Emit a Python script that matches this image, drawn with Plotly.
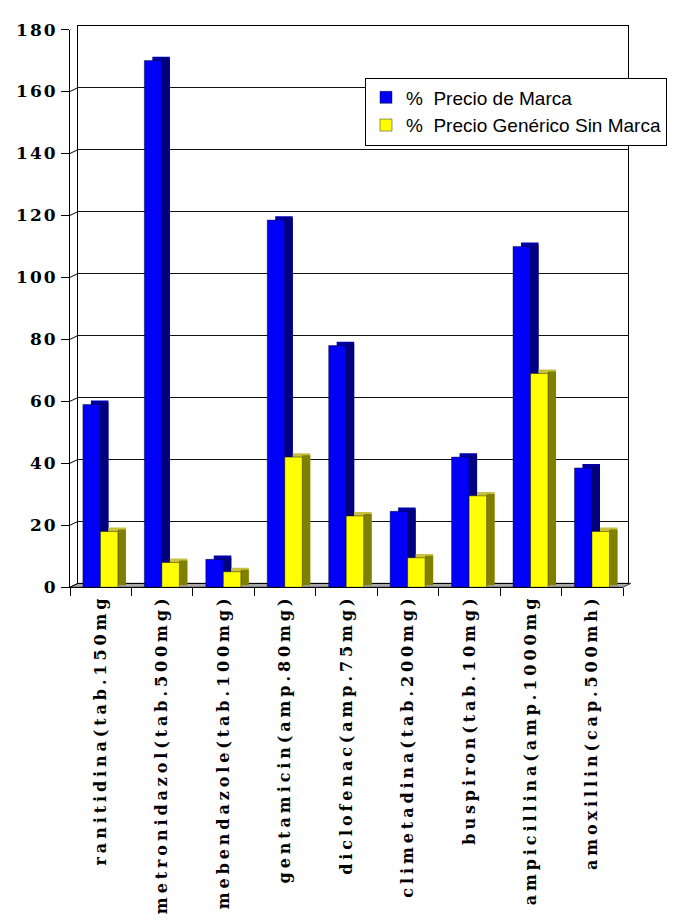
import plotly.graph_objects as go

# ---------------- data ----------------
categories = [
    "ranitidina(tab.150mg",
    "metronidazol(tab.500mg)",
    "mebendazole(tab.100mg)",
    "gentamicin(amp.80mg)",
    "diclofenac(amp.75mg)",
    "climetadina(tab.200mg)",
    "buspiron(tab.10mg)",
    "ampicillina(amp.1000mg",
    "amoxillin(cap.500mh)",
]
brand = [59, 170, 9, 118.5, 78, 24.5, 42, 110, 38.5]
generic = [18, 8, 5, 42, 23, 9.5, 29.5, 69, 18]
series_names = ["%  Precio de Marca", "%  Precio Genérico Sin Marca"]
y_tickvals = [0, 20, 40, 60, 80, 100, 120, 140, 160, 180]

# ---------------- geometry / style ----------------
W, H = 673, 924
FX0, FX1 = 70, 623      # front x-axis extent (px)
FY0, FY1 = 590, 20      # front y pixel of 0 and 180
DX, DY = 8, 4           # 3D depth offset (px)
YMAX = 180


def px(x):
    return x / W


def py(y):
    return 1 - y / H


n = len(categories)
cat_px = (FX1 - FX0) / n
unit_px = (FY0 - FY1) / YMAX
dx_u = DX / cat_px
dy_u = DY / unit_px
BW = 0.285
offsets = [-0.29, -0.005]
front_cols = ["#0000F8", "#FFFF00"]
top_cols = ["#0000A8", "#C8C040"]
side_cols = ["#000080", "#808000"]
values = [brand, generic]

fig = go.Figure()

# dummy trace to create the back-wall subplot
fig.add_trace(go.Scatter(x=[0.5], y=[0], mode="markers", marker=dict(opacity=0),
                         showlegend=False, hoverinfo="skip", xaxis="x", yaxis="y"))

for i in range(2):
    v = values[i]
    # top face (approx.)
    fig.add_trace(go.Bar(
        x=categories, y=v, base=[dy_u] * n, offset=offsets[i] + dx_u, width=BW,
        marker=dict(color=top_cols[i], line=dict(width=0)),
        showlegend=False, hoverinfo="skip", xaxis="x2", yaxis="y2"))
    # side face (approx.)
    fig.add_trace(go.Bar(
        x=categories, y=v, base=[dy_u / 2] * n, offset=offsets[i] + BW, width=dx_u,
        marker=dict(color=side_cols[i], line=dict(width=0)),
        showlegend=False, hoverinfo="skip", xaxis="x2", yaxis="y2"))
    # front face
    fig.add_trace(go.Bar(
        x=categories, y=v, offset=offsets[i], width=BW, name=series_names[i],
        legendgroup=f"g{i}",
        marker=dict(color=front_cols[i], line=dict(width=0.6, color="rgba(0,0,0,0.7)")),
        xaxis="x2", yaxis="y2"))

shapes = []
# floor
shapes.append(dict(
    type="path", xref="paper", yref="paper", layer="below",
    path=f"M {px(FX0)},{py(FY0)} L {px(FX1)},{py(FY0)} L {px(FX1 + DX)},{py(FY0 - DY)} L {px(FX0 + DX)},{py(FY0 - DY)} Z",
    fillcolor="#A8A8A8", line=dict(color="#404040", width=1)))
# small diagonal connectors from the front axis to the back wall
for t in y_tickvals:
    shapes.append(dict(type="line", xref="paper", yref="y2",
                       x0=px(FX0), x1=px(FX0 + DX), y0=t, y1=t + dy_u,
                       line=dict(color="black", width=1)))

fig.update_layout(
    width=W, height=H,
    margin=dict(l=0, r=0, t=0, b=0),
    paper_bgcolor="white", plot_bgcolor="rgba(0,0,0,0)",
    barmode="overlay",
    showlegend=True,
    shapes=shapes,
    legend=dict(x=px(365), y=py(69), xanchor="left", yanchor="top",
                bgcolor="white", bordercolor="black", borderwidth=1,
                font=dict(family="Liberation Sans", size=19, color="black"),
                traceorder="normal", tracegroupgap=7, itemwidth=30),
    xaxis=dict(domain=[px(FX0 + DX), px(628)], range=[0, 1], anchor="y",
               showgrid=False, zeroline=False, showticklabels=False, ticks="",
               showline=True, mirror=True, linecolor="black", linewidth=1, fixedrange=True),
    yaxis=dict(domain=[py(FY0 - DY), py(FY1 - DY)], range=[0, YMAX], anchor="x",
               tickmode="array", tickvals=y_tickvals,
               showgrid=True, gridcolor="#111111", gridwidth=1.2, zeroline=False,
               showticklabels=False, ticks="",
               showline=True, mirror=True, linecolor="black", linewidth=1, fixedrange=True),
    xaxis2=dict(domain=[px(FX0), px(FX1)], anchor="y2", type="category",
                range=[-0.5, n - 0.5], showgrid=False, zeroline=False,
                showline=True, linecolor="black", linewidth=1,
                ticks="outside", tickson="boundaries", ticklen=8, tickcolor="black",
                tickangle=-90, tickfont=dict(family="DejaVu Serif", size=16,
                                             color="black", weight="bold"),
                fixedrange=True),
    yaxis2=dict(domain=[py(FY0), py(FY1)], anchor="x2", range=[0, YMAX],
                tickmode="array", tickvals=y_tickvals,
                showgrid=False, zeroline=False, showline=True, linecolor="black", linewidth=1,
                ticks="outside", ticklen=8, tickcolor="black",
                tickfont=dict(family="DejaVu Serif", size=17, color="black", weight="bold"),
                fixedrange=True),
)

post = """
var gd = document.getElementById('{plot_id}');
function spaceTicks(){
  gd.querySelectorAll('g.x2tick text').forEach(function(t){ t.style.letterSpacing = '3.9px'; });
  gd.querySelectorAll('g.y2tick text').forEach(function(t){ t.style.letterSpacing = '2px'; });
}
spaceTicks();
gd.on && gd.on('plotly_afterplot', spaceTicks);
"""

fig.write_html("out.html", post_script=post, config={"displayModeBar": False})
